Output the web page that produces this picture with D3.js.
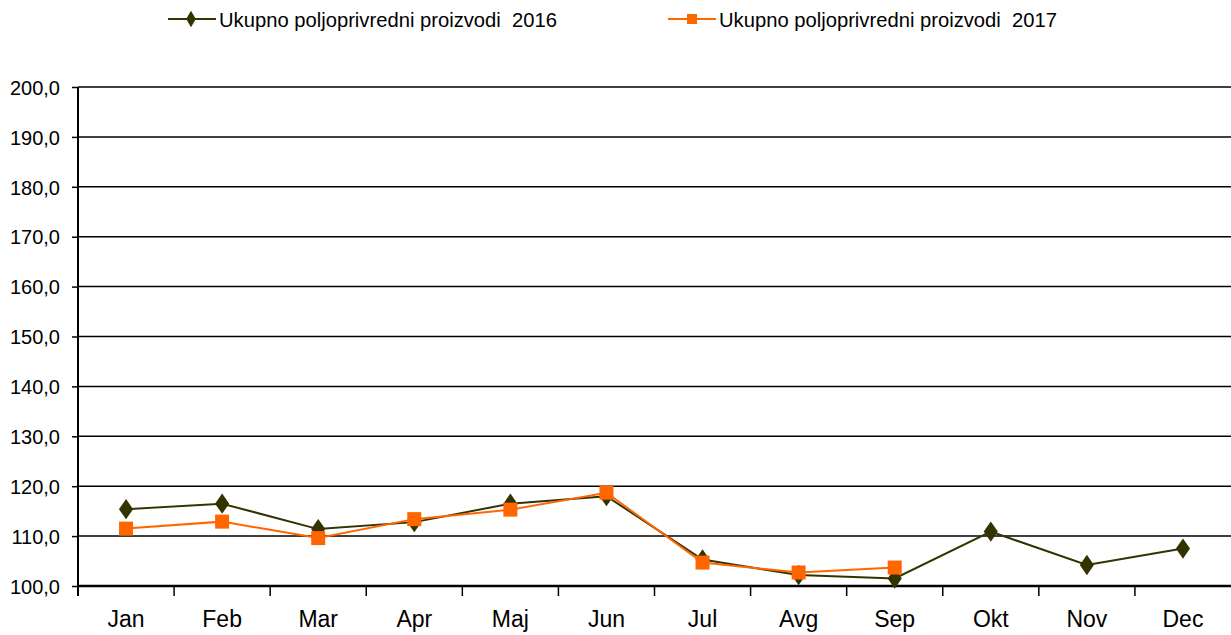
<!DOCTYPE html>
<html>
<head>
<meta charset="utf-8">
<script src="https://cdn.jsdelivr.net/npm/d3@7"></script>
<style>
  body { margin: 0; background: #fff; }
  text { font-family: "Liberation Sans", Arial, sans-serif; fill: #000; }
</style>
</head>
<body>
<div id="chart"></div>
<script>
const months = ["Jan", "Feb", "Mar", "Apr", "Maj", "Jun", "Jul", "Avg", "Sep", "Okt", "Nov", "Dec"];
const values2016 = [115.4, 116.5, 111.4, 112.8, 116.5, 118.0, 105.3, 102.2, 101.5, 110.9, 104.2, 107.5];
const values2017 = [111.5, 112.9, 109.6, 113.4, 115.3, 118.7, 104.7, 102.7, 103.7];
const yTicks = [100, 110, 120, 130, 140, 150, 160, 170, 180, 190, 200];
const seriesNames = ["Ukupno poljoprivredni proizvodi  2016", "Ukupno poljoprivredni proizvodi  2017"];

const width = 1231, height = 635;
const margin = { top: 87, right: 0, bottom: 49, left: 78 };

const svg = d3.select("#chart").append("svg")
    .attr("width", width)
    .attr("height", height);

const x = d3.scaleBand()
    .domain(months)
    .range([margin.left, width - margin.right]);

const y = d3.scaleLinear()
    .domain([100, 200])
    .range([height - margin.bottom, margin.top]);

const fmt = d => d3.format(".1f")(d).replace(".", ",");

// horizontal grid
svg.append("g")
    .selectAll("line")
    .data(yTicks)
    .enter().append("line")
    .attr("x1", margin.left)
    .attr("x2", width)
    .attr("y1", d => y(d))
    .attr("y2", d => y(d))
    .style("stroke", "#000")
    .style("stroke-width", 1.5);

// y axis
const yAxis = svg.append("g")
    .attr("transform", `translate(${margin.left},0)`)
    .call(d3.axisLeft(y).tickValues(yTicks).tickFormat(fmt).tickSize(6).tickPadding(12));
yAxis.select(".domain").attr("d", `M0,${y(200)}V${y(100) + 10}`).style("stroke-width", 2);
yAxis.selectAll(".tick line").style("stroke-width", 1.5);
yAxis.selectAll("text").style("font-size", "20px").attr("dy", "0.36em");

// x axis
const xAxis = svg.append("g")
    .attr("transform", `translate(0,${y(100)})`)
    .call(d3.axisBottom(x).tickSize(0).tickPadding(0));
xAxis.select(".domain").attr("d", `M${margin.left},0H${width}`).style("stroke-width", 2.5);
xAxis.selectAll("text")
    .style("font-size", "23px")
    .attr("y", 41)
    .attr("dy", 0);
xAxis.append("g")
    .selectAll("line")
    .data(months.slice(1))
    .enter().append("line")
    .attr("x1", d => x(d))
    .attr("x2", d => x(d))
    .attr("y1", 0)
    .attr("y2", 10)
    .style("stroke", "#000")
    .style("stroke-width", 1.5);

const cx = i => x(months[i]) + x.bandwidth() / 2;

const line = d3.line()
    .x((d, i) => cx(i))
    .y(d => y(d));

const diamond = d3.symbol().type(d3.symbolDiamond).size(120);

// 2016
svg.append("path")
    .datum(values2016)
    .attr("d", line)
    .style("fill", "none")
    .style("stroke", "#333300")
    .style("stroke-width", 2);
svg.append("g")
    .selectAll("path")
    .data(values2016)
    .enter().append("path")
    .attr("d", diamond)
    .attr("transform", (d, i) => `translate(${cx(i)},${y(d)}) scale(1.2,1)`)
    .style("fill", "#333300");

// 2017
svg.append("path")
    .datum(values2017)
    .attr("d", line)
    .style("fill", "none")
    .style("stroke", "#FF6600")
    .style("stroke-width", 2);
svg.append("g")
    .selectAll("rect")
    .data(values2017)
    .enter().append("rect")
    .attr("x", (d, i) => cx(i) - 7)
    .attr("y", d => y(d) - 7)
    .attr("width", 14)
    .attr("height", 14)
    .style("fill", "#FF6600");

// legend
const legend = [
    { name: seriesNames[0], x: 168, color: "#333300", mark: "diamond" },
    { name: seriesNames[1], x: 668, color: "#FF6600", mark: "square" }
];
const lg = svg.append("g").selectAll("g")
    .data(legend)
    .enter().append("g")
    .attr("transform", d => `translate(${d.x},19)`);
lg.append("line")
    .attr("x1", 0).attr("x2", 48)
    .style("stroke", d => d.color)
    .style("stroke-width", 2);
lg.filter(d => d.mark === "diamond").append("path")
    .attr("d", d3.symbol().type(d3.symbolDiamond).size(80))
    .attr("transform", "translate(23,0)")
    .style("fill", d => d.color);
lg.filter(d => d.mark === "square").append("rect")
    .attr("x", 19).attr("y", -5).attr("width", 10).attr("height", 10)
    .style("fill", d => d.color);
lg.append("text")
    .attr("x", 51)
    .attr("y", 8)
    .style("font-size", "21px")
    .style("white-space", "pre")
    .attr("textLength", 338)
    .attr("lengthAdjust", "spacingAndGlyphs")
    .text(d => d.name);
</script>
</body>
</html>
